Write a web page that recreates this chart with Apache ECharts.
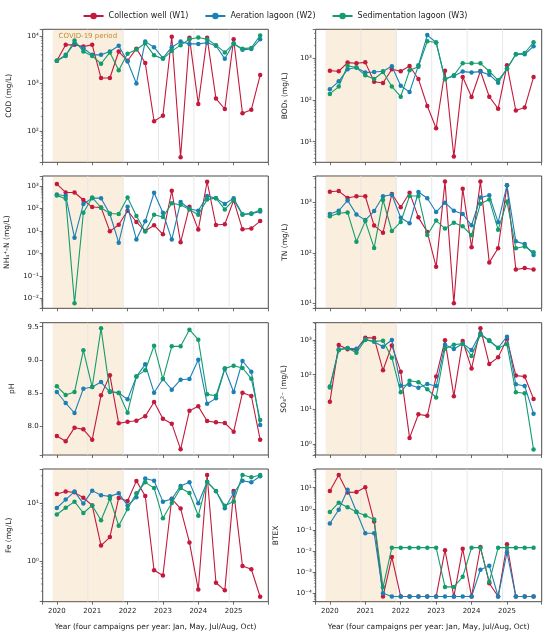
<!DOCTYPE html>
<html><head><meta charset="utf-8">
<script src="https://cdn.jsdelivr.net/npm/echarts@6/dist/echarts.min.js"></script>
<style>html,body{margin:0;padding:0;background:#fff}#c{width:550px;height:637px}</style>
</head><body><div id="c"></div>
<script>
// ---------------- DATA ----------------
const years = [2020, 2021, 2022, 2023, 2024, 2025];
const campaignOffsets = [0, 0.25, 0.5, 0.75]; // Jan, May, Jul/Aug, Oct
const stationNames = ['Collection well (W1)', 'Aeration lagoon (W2)', 'Sedimentation lagoon (W3)'];
const covidPeriod = [2019.88, 2021.88];
const yearBoundaries = [2020.875, 2021.875, 2022.875, 2023.875, 2024.875];

const codW1 = [3000,6500,6500,6000,6500,1300,1300,4700,3000,5400,2700,160,210,9600,28,9200,370,9200,480,290,8500,235,280,1500];
const codW2 = [3000,4000,7000,5500,4000,4000,4700,6200,2900,1000,7600,5800,3400,5800,7600,6800,6800,7200,6200,3300,7000,5100,5300,8500];
const codW3 = [3000,3800,8000,4700,3800,2600,4500,1900,4200,5200,7000,3900,3300,4800,6400,8500,9300,8500,6400,4500,6800,5400,5600,10200];

const bodW1 = [505,490,790,760,800,275,256,545,490,655,320,72,21,505,4.4,355,118,495,120,62,680,56,66,355];
const bodW2 = [180,280,545,600,455,470,490,645,220,155,680,3600,2400,320,375,480,460,480,405,260,575,1230,1250,1940];
const bodW3 = [140,210,665,600,390,320,470,210,120,515,630,2560,2400,315,390,760,760,760,490,296,555,1270,1340,2430];

const nh4W1 = [1230,520,520,240,116,112,9.6,19,80,25,10,18,7.1,620,3.1,120,11.5,1560,18.3,20,230,11.8,13,27.5];
const nh4W2 = [425,370,5,158,290,290,57,3.0,120,4.2,27,505,65,4.1,195,98,80,360,290,158,290,55,59,74];
const nh4W3 = [385,275,0.006,65,313,108,60,57,313,46,9.5,53,42,170,148,91,53,255,290,91,240,53,60,85];

const tnW1 = [1650,1700,1240,1340,1340,350,253,1490,810,1580,510,260,53,2620,10,1900,130,2620,65,124,2210,47,50,47];
const tnW2 = [595,690,1110,580,450,680,1340,1440,500,390,1630,1220,650,1000,690,595,355,1260,1400,406,2210,170,150,91];
const tnW3 = [535,615,640,168,430,126,1130,273,413,1360,1360,228,440,305,400,338,225,955,1160,290,1050,124,134,103];

const phW1 = [7.86,7.78,7.985,7.96,7.805,8.47,8.77,8.05,8.075,8.09,8.155,8.37,8.12,8.045,7.66,8.24,8.305,8.085,8.065,8.055,7.925,8.51,8.46,7.805];
const phW2 = [8.52,8.355,8.205,8.57,8.595,8.67,8.52,8.505,8.41,8.75,8.935,8.51,8.715,8.555,8.705,8.715,9.005,8.345,8.425,8.865,8.52,8.985,8.825,8.025];
const phW3 = [8.605,8.475,8.52,9.145,8.595,9.475,8.53,8.51,8.21,8.755,8.845,9.215,8.715,9.205,9.205,9.455,9.305,8.485,8.465,8.875,8.915,8.88,8.72,8.1];

const so4W1 = [16.5,715,540,520,1170,1140,134,700,122,1.5,7.2,6.5,88,980,24,935,152,2170,203,316,1070,94,89,20];
const so4W2 = [46,540,575,560,1045,895,640,1000,48,51,42,54,47,735,550,785,515,1560,935,600,1250,53,47,7.5];
const so4W3 = [43,505,590,430,1000,915,955,310,31,67,61,38,22,560,735,785,345,1425,980,590,750,31,29,0.69];

const feW1 = [14.5,16,15.5,12.5,9.2,1.85,2.6,12.4,11,24.5,13.4,0.69,0.56,12,8.1,2.1,0.32,31,0.42,0.31,16.3,0.82,0.72,0.24];
const feW2 = [8.3,11.6,16,9.9,16.6,13.8,13.2,14.9,9.2,12.7,27,24.7,10.7,11.9,20,23.1,10,23.4,16.3,8.2,15.1,24.7,23.1,29.4];
const feW3 = [6.4,8.4,10.7,6.8,9.2,5.1,12,4.1,8,14.9,23.1,18.5,5.5,10.1,18.5,15.1,6.1,23.7,16.2,9.1,10.8,31,28.3,31];

const btexW1 = [6.9,40,6,6.2,10.4,0.25,0.00007,0.0052,0.00007,0.00007,0.00007,0.00007,0.00007,0.011,0.00007,0.013,0.00007,0.0155,0.0003,0.00007,0.021,0.00007,0.00007,0.00007];
const btexW2 = [0.2,0.9,8,0.72,0.07,0.07,0.0001,0.00007,0.00007,0.00007,0.00007,0.00007,0.00007,0.00007,0.00007,0.00007,0.00007,0.0013,0.002,0.00007,0.0087,0.00007,0.00007,0.00007];
const btexW3 = [0.7,1.95,1.2,0.7,0.48,0.31,0.00019,0.0145,0.0145,0.0145,0.0145,0.0145,0.0145,0.0002,0.0002,0.0006,0.0145,0.0145,0.00035,0.0145,0.0145,0.0145,0.0145,0.0145];

// ---------------- LAYOUT / STYLE ----------------
const campaignTimes = [];
years.forEach(y => campaignOffsets.forEach(o => campaignTimes.push(y + o)));

const colors = ['#c3193c', '#1b80b4', '#139c6c'];
const X_MIN = 2019.6, X_MAX = 2025.98;
const colLeft = [42.7, 315.7], colWidth = [225.6, 226];
const rowTop = [29.3, 176, 322.7, 469], rowHeight = [133, 132.3, 132.3, 132.7];
const TXT = '#222', SPINE = '#4a4a4a';

const panels = [
  { title: 'COD (mg/L)', series: [codW1, codW2, codW3], log: true, range: [1.34, 4.14], row: 0, col: 0, gap: 30, covid: true },
  { title: 'BOD\u2085 (mg/L)', series: [bodW1, bodW2, bodW3], log: true, range: [0.506, 3.696], row: 0, col: 1, gap: 27 },
  { title: 'NH\u2084\u207A-N (mg/L)', series: [nh4W1, nh4W2, nh4W3], log: true, range: [-2.45, 3.45], row: 1, col: 0, gap: 32 },
  { title: 'TN (mg/L)', series: [tnW1, tnW2, tnW3], log: true, range: [0.9, 3.53], row: 1, col: 1, gap: 27 },
  { title: 'pH', series: [phW1, phW2, phW3], log: false, range: [7.575, 9.56], row: 2, col: 0, gap: 27 },
  { title: 'SO\u2084\u00B2\u207B (mg/L)', series: [so4W1, so4W2, so4W3], log: true, range: [-0.317, 3.5], row: 2, col: 1, gap: 28 },
  { title: 'Fe (mg/L)', series: [feW1, feW2, feW3], log: true, range: [-0.705, 1.595], row: 3, col: 0, gap: 30 },
  { title: 'BTEX', series: [btexW1, btexW2, btexW3], log: true, range: [-4.4, 1.886], row: 3, col: 1, gap: 36 }
];

const SUP = {'0':'\u2070','1':'\u00B9','2':'\u00B2','3':'\u00B3','4':'\u2074','5':'\u2075','6':'\u2076','7':'\u2077','8':'\u2078','9':'\u2079','-':'\u207B'};
function pow10Label(v) {
  const e = Math.log10(v);
  const r = Math.round(e);
  if (Math.abs(e - r) > 0.01) return '';
  return '10' + String(r).split('').map(c => SUP[c]).join('');
}

const grids = [], xAxes = [], yAxes = [], series = [];

panels.forEach((p, i) => {
  const bottom = p.row === 3;
  grids.push({
    left: colLeft[p.col], top: rowTop[p.row], width: colWidth[p.col], height: rowHeight[p.row],
    show: true, borderColor: SPINE, borderWidth: 1, backgroundColor: 'transparent', containLabel: false
  });
  xAxes.push({
    type: 'value', gridIndex: i, min: X_MIN, max: X_MAX, splitNumber: 5,
    axisLine: { show: false },
    axisTick: { show: true, length: 3, lineStyle: { color: SPINE, width: 0.8 } },
    splitLine: { show: false },
    axisLabel: {
      show: bottom, fontSize: 7, color: TXT, margin: 6, fontFamily: 'DejaVu Sans',
      formatter: v => (Math.abs(v - Math.round(v)) < 1e-6 && v >= 2020 && v <= 2025) ? String(Math.round(v)) : ''
    },
    name: bottom ? 'Year (four campaigns per year: Jan, May, Jul/Aug, Oct)' : '',
    nameLocation: 'middle', nameGap: 21,
    nameTextStyle: { fontSize: 7.5, color: TXT, fontFamily: 'DejaVu Sans' }
  });
  const yMin = p.log ? Math.pow(10, p.range[0]) : p.range[0];
  const yMax = p.log ? Math.pow(10, p.range[1]) : p.range[1];
  yAxes.push({
    type: p.log ? 'log' : 'value', logBase: 10, gridIndex: i, min: yMin, max: yMax,
    splitNumber: p.log ? 5 : 3,
    axisLine: { show: false },
    axisTick: { show: true, length: 3, lineStyle: { color: SPINE, width: 0.8 } },
    splitLine: { show: false },
    axisLabel: {
      fontSize: 7, color: TXT, margin: 4, fontFamily: 'DejaVu Sans',
      formatter: p.log ? pow10Label : (v => (Math.abs(v * 2 - Math.round(v * 2)) < 1e-6 ? v.toFixed(1) : ''))
    },
    name: p.title, nameLocation: 'middle', nameGap: p.gap,
    nameTextStyle: { fontSize: 7.5, color: TXT, fontFamily: 'DejaVu Sans' }
  });

  const yMid = p.log ? Math.pow(10, (p.range[0] + p.range[1]) / 2) : (p.range[0] + p.range[1]) / 2;
  // faint year-boundary lines
  series.push({
    type: 'custom', xAxisIndex: i, yAxisIndex: i, z: 1, silent: true, clip: false,
    data: yearBoundaries.map(x => [x, yMid]),
    renderItem: (params, api) => {
      const cs = params.coordSys;
      const pt = api.coord([api.value(0), api.value(1)]);
      return { type: 'line', shape: { x1: pt[0], y1: cs.y, x2: pt[0], y2: cs.y + cs.height },
               style: { stroke: '#e2e2e2', lineWidth: 0.8 } };
    }
  });
  // minor ticks on log axes
  if (p.log) {
    const minors = [];
    for (let d = Math.floor(p.range[0]); d <= Math.ceil(p.range[1]); d++) {
      for (let k = 2; k <= 9; k++) {
        const v = k * Math.pow(10, d);
        if (Math.log10(v) > p.range[0] && Math.log10(v) < p.range[1]) minors.push([X_MIN, v]);
      }
    }
    series.push({
      type: 'custom', xAxisIndex: i, yAxisIndex: i, z: 6, silent: true, clip: false,
      data: minors,
      renderItem: (params, api) => {
        const cs = params.coordSys;
        const pt = api.coord([api.value(0), api.value(1)]);
        return { type: 'line', shape: { x1: cs.x - 1.8, y1: pt[1], x2: cs.x, y2: pt[1] },
                 style: { stroke: SPINE, lineWidth: 0.6 } };
      }
    });
  }

  p.series.forEach((vals, s) => {
    const ser = {
      name: stationNames[s], type: 'line', xAxisIndex: i, yAxisIndex: i, z: 2 + s,
      data: vals.map((v, k) => [campaignTimes[k], v]),
      symbol: 'circle', symbolSize: 4.5, showSymbol: true,
      lineStyle: { color: colors[s], width: 1.1 },
      itemStyle: { color: colors[s] },
      emphasis: { disabled: true }, animation: false
    };
    if (s === 0) {
      ser.markArea = {
        silent: true,
        itemStyle: { color: 'rgba(230,170,90,0.2)' },
        label: { show: !!p.covid, position: [6, 3], color: '#c58a33', fontSize: 7, fontFamily: 'DejaVu Sans' },
        data: [[{ xAxis: covidPeriod[0], name: 'COVID-19 period' }, { xAxis: covidPeriod[1] }]]
      };
    }
    series.push(ser);
  });
});

const chart = echarts.init(document.getElementById('c'), null, { renderer: 'canvas' });
chart.setOption({
  animation: false,
  backgroundColor: '#fff',
  textStyle: { fontFamily: 'DejaVu Sans' },
  legend: {
    data: stationNames, top: 7, left: 'center', itemWidth: 20, itemHeight: 8, itemGap: 16,
    textStyle: { fontSize: 8, color: TXT, fontFamily: 'DejaVu Sans' }
  },
  grid: grids, xAxis: xAxes, yAxis: yAxes, series: series
});
</script></body></html>
